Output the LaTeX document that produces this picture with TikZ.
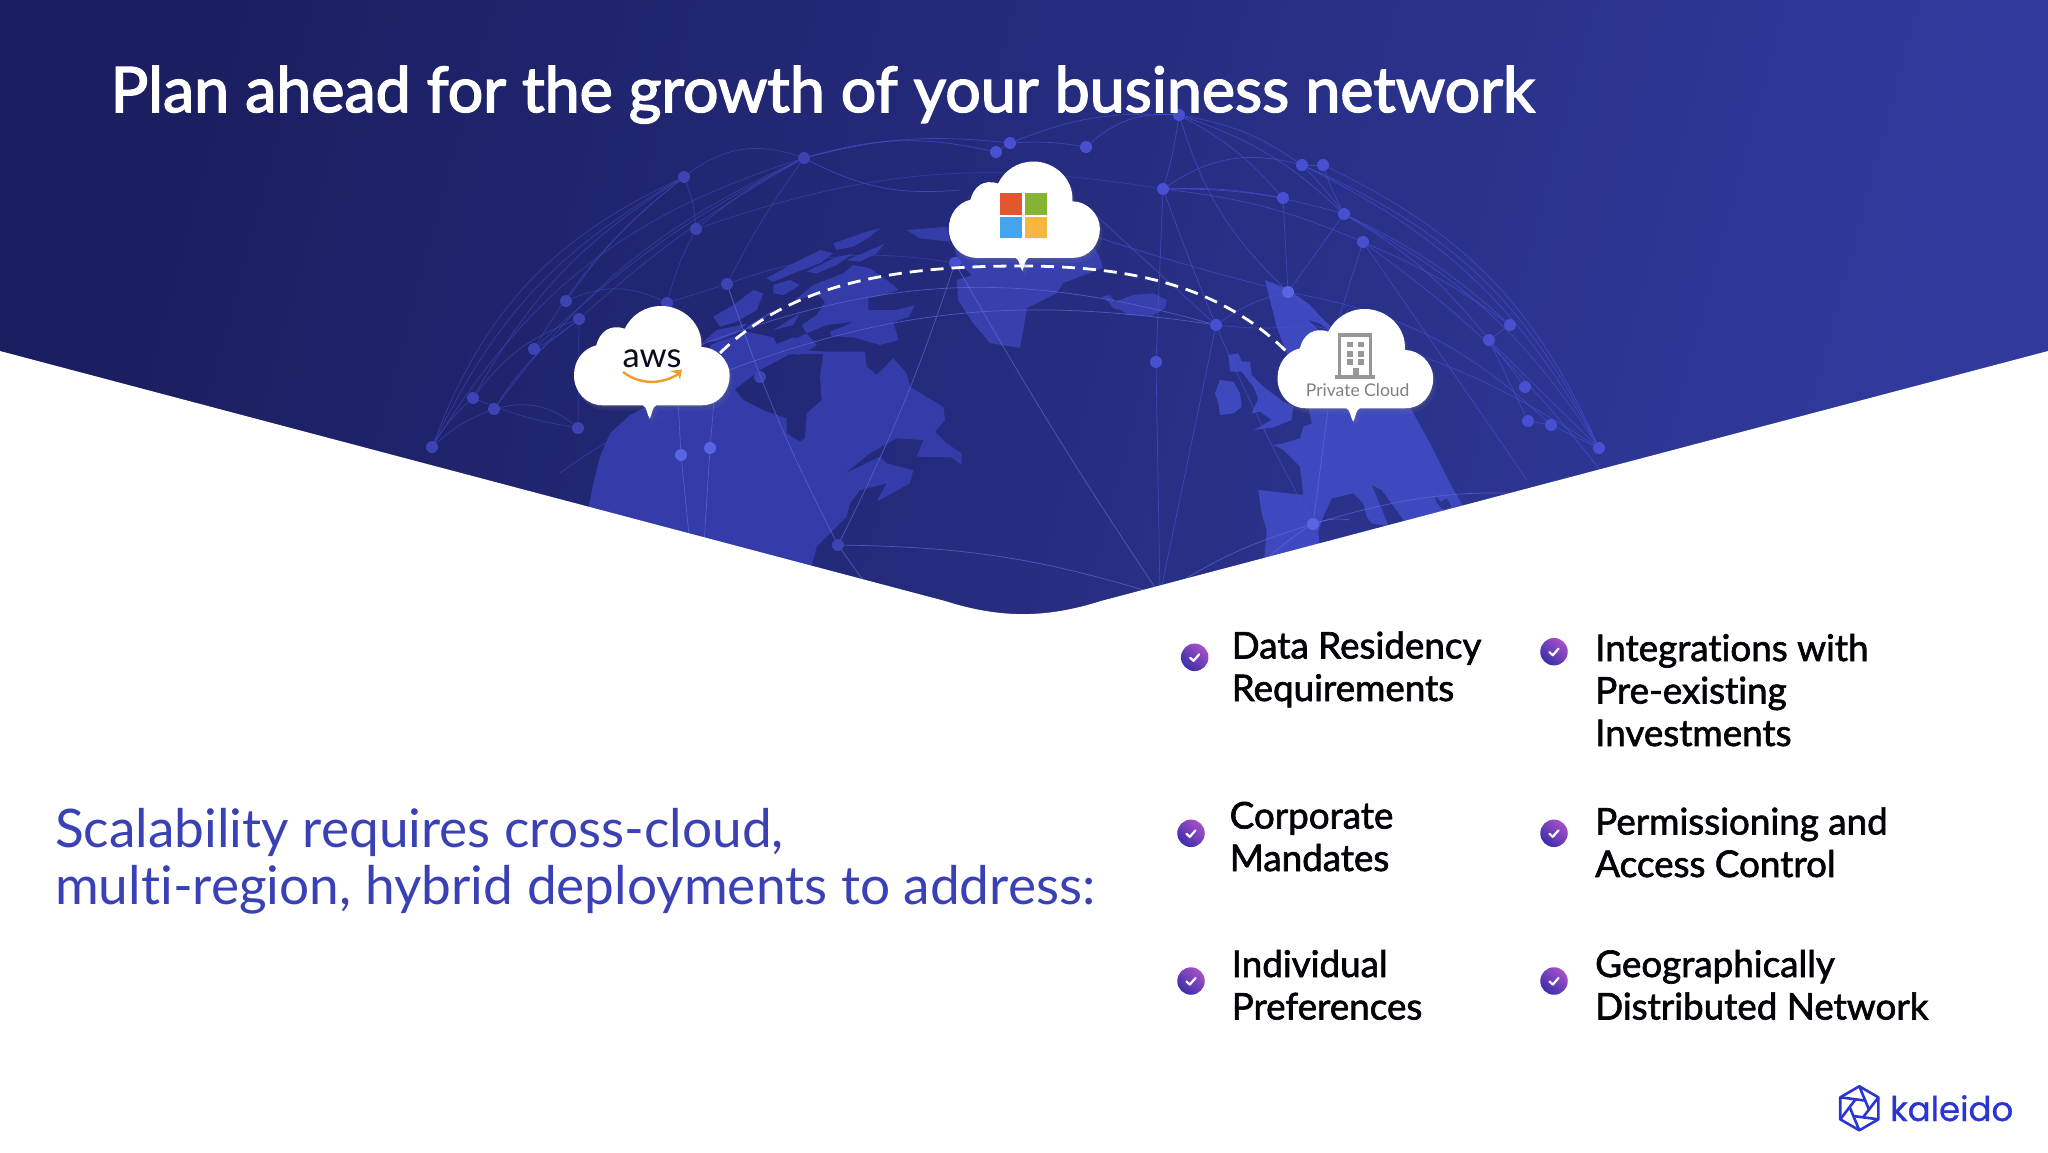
\documentclass[tikz,border=0pt]{standalone}
\usepackage{fontspec}
\setmainfont[Ligatures=NoCommon]{Lato}
\newfontfamily\latomed[FakeBold=2.4, Ligatures=NoCommon]{Lato}
\newfontfamily\latoitem[FakeBold=1.8, Ligatures=NoCommon]{Lato}
\newfontfamily\logofont[FakeBold=0.8]{Poppins}
\usetikzlibrary{positioning, shadows}
\definecolor{navyL}{HTML}{1B1E60}
\definecolor{navyM}{HTML}{20266F}
\definecolor{navyR}{HTML}{303A9C}
\definecolor{landL}{HTML}{333CA8}
\definecolor{landM}{HTML}{3840AF}
\definecolor{landR}{HTML}{3F49BF}
\definecolor{netL}{HTML}{3B44B2}
\definecolor{netR}{HTML}{4650D0}
\definecolor{netB}{HTML}{5A65E4}
\definecolor{slate}{HTML}{3A41B5}
\definecolor{gray1}{HTML}{979797}
\definecolor{kal}{HTML}{2B35D0}
\definecolor{tickB}{HTML}{3A2FA8}
\definecolor{tickT}{HTML}{A850C8}
\definecolor{smile}{HTML}{F09C28}
\tikzset{
  netdot/.style = {circle, fill=#1, inner sep=0pt, minimum size=12pt},
  netline/.style = {draw=#1, line width=0.7pt, draw opacity=0.7},
  netline/.default = netL,
  bubble/.pic = {
    \path[fill=white, drop shadow={opacity=.12, shadow xshift=3pt, shadow yshift=-5pt},
          drop shadow={opacity=.18, shadow xshift=1pt, shadow yshift=-2pt}]
      (-49,48.3) -- (-9,48.3) .. controls (-5,50) and (-5,58) .. (-2.3,61.7)
      .. controls (0,58) and (0,50) .. (4.3,48.3) -- (49.3,48.3)
      .. controls (67.7,48.3) and (77.7,33.3) .. (77.7,18.3)
      .. controls (77.7,3.3) and (64.3,-10) .. (49.3,-10)
      .. controls (51,-33.3) and (31,-51) .. (9.3,-51)
      .. controls (-7.3,-51) and (-20.7,-41.7) .. (-27.3,-28.3)
      .. controls (-42.3,-33.3) and (-52.3,-25) .. (-55.7,-11.7)
      .. controls (-69,-8.3) and (-78,3.3) .. (-78,18.3)
      .. controls (-78,35) and (-65.7,48.3) .. (-49,48.3) -- cycle;
  },
  itemtext/.style = {anchor=base west, inner sep=0pt, align=left, text=black!92!navyM,
                     font=\latoitem\fontsize{36.8}{42.5}\selectfont},
  tickdot/.style = {circle, minimum size=27.5pt, inner sep=0pt,
                    bottom color=tickB, top color=tickT, shading angle=-40,
                    path picture={
                      \draw[white, line width=2.2pt, line cap=round, line join=round,
                            shift={(path picture bounding box.center)}]
                        (-4.5,0.5) -- (-1.2,3.5) -- (4.5,-3);
                    }},
}
\begin{document}
\begin{tikzpicture}[x=1pt, y=-1pt]
    \useasboundingbox (0,0) rectangle (2048,1152);
    % backdrop
    \shade[left color=navyL, middle color=navyM, right color=navyR, shading angle=75]
        (0,0) rectangle (2048,640);

    % continents, traced at 3x
    \begin{scope}[shift={(560,230)}, scale=0.33333]
        \fill[landL, even odd rule]
            (85,835) -- (100,760) -- (120,680) -- (150,610) -- (210,555) -- (300,510) -- (440,480)
            -- (450,345) -- (560,305) -- (640,322) -- (650,342) -- (700,322) -- (770,345) -- (745,362)
            -- (800,365) -- (915,365) -- (920,410) -- (950,435) -- (1000,385) -- (1040,430) -- (1050,470)
            -- (1090,495) -- (1150,530) -- (1155,570) -- (1125,605) -- (1160,640) -- (1205,670) -- (1205,705)
            -- (1175,682) -- (1070,680) -- (1090,630) -- (1010,625) -- (930,670) -- (855,730) -- (960,680)
            -- (980,700) -- (1060,720) -- (1050,760) -- (950,815) -- (980,760) -- (900,780) -- (870,820)
            -- (860,860) -- (820,900) -- (770,950) -- (750,1030) -- (85,860) -- cycle
            (525,478) -- (600,420) -- (690,372) -- (790,372) -- (780,440) -- (785,510) -- (740,550)
            -- (735,625) -- (720,635) -- (680,610) -- (680,565) -- (620,545) -- (550,510) -- cycle;
        \fill[landL]
            (700,215) -- (760,165) -- (850,130) -- (880,105) -- (930,115) -- (1000,165) -- (1015,180)
            -- (970,195) -- (925,205) -- (925,240) -- (975,240) -- (1010,240) -- (1065,225) -- (1045,262)
            -- (1000,275) -- (1015,330) -- (960,345) -- (880,322) -- (815,318) -- (810,305) -- (850,290)
            -- (880,275) -- (800,285) -- (740,310) -- (725,285) -- (770,255) -- (795,215) -- (770,190) -- cycle;
        \fill[landL] (690,335) -- (740,310) -- (770,345) -- (715,375) -- cycle;
        \fill[landL] (460,260) -- (520,225) -- (580,180) -- (610,190) -- (590,240) -- (530,275) -- (480,290) -- cycle;
        \fill[landL] (620,145) -- (690,105) -- (780,60) -- (820,70) -- (780,100) -- (700,130) -- (640,155) -- cycle;
        \fill[landL] (820,40) -- (920,5) -- (960,-5) -- (930,20) -- (880,50) -- (830,60) -- cycle;
        \fill[landL] (560,290) -- (640,240) -- (610,270) -- (570,300) -- cycle;
        \fill[landL] (640,300) -- (720,250) -- (700,285) -- cycle;
        \fill[landL] (1040,0) -- (1160,-10) -- (1170,35) -- (1080,25) -- cycle;
        \fill[landL] (430,335) -- (470,300) -- (520,290) -- (560,280) -- (530,310) -- (470,335) -- cycle;
        \fill[landL] (640,165) -- (690,150) -- (720,165) -- (670,195) -- (640,190) -- cycle;
        \fill[landL] (740,125) -- (820,85) -- (880,70) -- (830,105) -- (770,130) -- cycle;
        \fill[landL] (860,90) -- (920,65) -- (975,40) -- (950,70) -- (900,95) -- cycle;
    \end{scope}
    \fill[landM] (985,190) -- (1080,220) -- (1100,258) -- (1103,268) -- (1063,283) -- (1057,293) -- (1027,308)
        -- (1020,348) -- (990,343) -- (973,323) -- (958,300) -- (957,280) -- (972,275) -- (958,262) -- (955,250) -- cycle;
    \begin{scope}[shift={(1020,230)}, scale=0.33333]
        \fill[landM] (245,200) -- (270,195) -- (285,215) -- (340,195) -- (400,190) -- (440,210) -- (435,235)
            -- (395,258) -- (320,255) -- (305,240) -- (280,235) -- (265,215) -- cycle;
        \fill[landR] (600,450) -- (640,455) -- (660,490) -- (665,530) -- (640,550) -- (600,555) -- (595,520) -- (585,490) -- cycle;
        \fill[landR] (625,375) -- (655,370) -- (665,395) -- (690,395) -- (695,435) -- (730,470) -- (790,515) -- (820,530)
            -- (815,570) -- (760,592) -- (702,600) -- (755,570) -- (720,545) -- (695,550) -- (715,505) -- (700,470) -- (665,425) -- (630,425) -- cycle;
        \fill[landR, even odd rule]
            (735,150) -- (800,175) -- (870,225) -- (930,290) -- (1100,400) -- (1175,540) -- (1230,640) -- (1290,760)
            -- (1330,830) -- (1330,900) -- (730,1010) -- (735,965) -- (740,900) -- (725,850) -- (715,780) -- (850,795)
            -- (840,710) -- (790,660) -- (760,645) -- (790,640) -- (840,625) -- (850,590) -- (875,580) -- (865,530)
            -- (800,370) -- (770,290) -- (745,190) -- cycle
            (895,905) -- (905,870) -- (935,805) -- (1000,790) -- (1030,820) -- (1040,860) -- (1055,880) -- (1110,890) -- (1010,935) -- (900,960) -- cycle
            (1055,765) -- (1085,780) -- (1155,875) -- (1105,885) -- cycle
            (865,270) -- (900,280) -- (925,300) -- (895,300) -- cycle
            (1245,795) -- (1250,820) -- (1270,840) -- (1295,830) -- (1280,805) -- (1262,815) -- cycle;
    \end{scope}

    % network dots and free ends
    \foreach \nm/\px/\py in {na/684/177, nb/804/158, nc/696/229, nd/727/284, ne/566/301, nf/579/319, ng/534/349,
            nh/473/398, ni/494/409, nj/578/428, nk/432/447, nm/760/377, nn/838/545, no/667/303}
        \node (\nm) [netdot=netL] at (\px,\py) {};
    \foreach \nm/\px/\py in {nr/955/263, ns/996/152, nt/1010/143, nu/1086/147, nv/1179/115, nw/1163/189,
            nx/1302/165, ny/1323/165, nz/1283/198, naa/1344/214, nab/1363/242, nad/1216/325, nae/1156/362,
            naf/1510/325, nag/1489/340, nah/1525/387, nai/1528/421, naj/1551/425, nak/1599/448}
        \node (\nm) [netdot=netR] at (\px,\py) {};
    \foreach \nm/\px/\py in {np/681/455, nq/710/448, nac/1288/292, nal/1313/524}
        \node (\nm) [netdot=netB] at (\px,\py) {};
    \foreach \nm/\px/\py in {xa/1160/595, xb/700/345, xc/690/385, xd/560/473, xe/673/413, xf/690/545, xg/704/545,
            xh/1335/330, xi/1060/225, xj/960/190, xk/1090/210, xl/1328/410, xm/1600/470, xn/1527/480,
            xo/1560/470, xp/1350/520, xq/1265/560, xr/870/590, xs/1310/325, xt/715/390, xu/678/400, xv/1590/500}
        \coordinate (\nm) at (\px,\py);

    % network lines, bending to the outside of the globe
    \foreach \src/\dst/\bnd in {nk/na/22, nk/na/17, nk/nb/20, nh/na/14, ni/nb/14, ng/na/10, ng/nb/8, ne/na/8, nf/nb/6,
            ne/no/24, nc/na/-8, nc/nb/6, nd/nb/4, nf/ng/6, nh/nf/16, ni/nf/10, nk/nh/8, nf/nj/0, ni/nj/26, nd/no/0,
            no/nc/6, nd/nr/14, nc/nw/14, na/nb/28, xd/xe/8, nm/nd/0, nh/nj/-6, nk/ni/10}
        \draw[netline] (\src) to[bend left=\bnd] (\dst);
    \foreach \src/\dst/\bnd in {nb/ns/14, ns/nt/0, nt/nu/6, nu/nv/22, nv/nw/4, nw/nae/0, nw/nx/24, nb/nt/10, nb/xj/-16,
            nv/nx/12, nv/nz/10, nv/naa/12, nt/nv/12, nw/nz/6, nw/naa/8, nw/nab/8, nx/ny/0, nx/naa/4, ny/naa/-4, nz/nac/0,
            naa/nac/0, nab/xh/0, nx/nak/20, nx/nak/17, ny/nak/20, naa/nak/14, naa/naf/8, nab/naf/6, nab/xm/8, nab/xn/0,
            naf/nag/0, nag/nah/0, nag/nai/0, nag/nak/0, nai/naj/0, naj/nak/0, naa/nag/10, xi/nac/-2, nad/nac/10, nv/nac/-14,
            nac/naj/16, xs/nak/10, nw/nal/-4, xk/nad/0, nad/xs/-6, xa/nad/0, nae/xa/0, nac/xh/0}
        \draw[netline=netR] (\src) to[bend left=\bnd] (\dst);
    \foreach \src/\dst/\bnd in {xb/nad/18, xc/nad/15, np/xf/0, nq/xg/0, np/xu/0, nq/xt/0, nd/nn/-4, nn/nr/-4, nr/xa/-2,
            nn/xa/8, nn/xr/0, xa/nal/8, nal/xl/0, nal/xp/12, nal/xq/-4, nal/xv/12}
        \draw[netline=netR!85!white] (\src) to[bend left=\bnd] (\dst);

    % white lower panel
    \fill[white] (-2,350.5) -- (945,601) .. controls (1000,618.5) and (1046,618.5) .. (1101,601) -- (2050,350.5)
        -- (2050,1154) -- (-2,1154) -- cycle;

    % link between the clouds
    \coordinate (awsport) at (720,353);
    \coordinate (msport) at (1020,266);
    \coordinate (privport) at (1288,353);
    \draw[white, line width=2.8pt, dash pattern=on 13pt off 8pt] (awsport) .. controls (790,285) and (890,266) .. (msport);
    \draw[white, line width=2.8pt, dash pattern=on 13pt off 8pt] (msport) .. controls (1130,266) and (1220,285) .. (privport);

    % clouds
    \pic (awsbubble) at (652,357) {bubble};
    \pic (msbubble) [scale=0.97] at (1024.5,211) {bubble};
    \pic (privbubble) at (1355.5,360) {bubble};

    \node (awslabel) [anchor=base, inner sep=0pt, text=black!75!navyM, font=\fontsize{34.5}{36}\selectfont] at (652,367) {aws};
    \draw[smile, line width=2.4pt] (623,372) .. controls (640,385) and (662,385) .. (680,373);
    \fill[smile] (670,371) -- (682,369.5) -- (680,380) -- (678,374) -- cycle;

    \foreach \sx/\sy/\col in {1000/193/E4572E, 1024.5/193/85B332, 1000/216.5/45A5EC, 1024.5/216.5/F5B73F}{
        \definecolor{tile}{HTML}{\col}
        \fill[tile] (\sx,\sy) rectangle +(22.3,21.8);
    }

    \draw[gray1, line width=3.3pt] (1339.4,379) -- (1339.4,335) -- (1370.6,335) -- (1370.6,379);
    \fill[gray1] (1335,375) rectangle (1375,379.3);
    \foreach \wy in {341.7,351,359.3}
        \foreach \wx in {1346.7,1358.3}
            \fill[gray1] (\wx,\wy) rectangle +(6,5.5);
    \fill[gray1] (1352.5,368.3) rectangle (1358.5,377);
    \node (privlabel) [anchor=base, inner sep=0pt, text=black!50, font=\fontsize{17.5}{20}\selectfont] at (1357.7,396) {Private Cloud};

    % texts
    \node (title) [anchor=base west, inner sep=0pt, text=white, font=\latomed\fontsize{62.7}{70}\selectfont] at (110.5,112)
        {Plan ahead for the growth of your business network};
    \node (lead) [anchor=base west, inner sep=0pt, text=slate, font=\fontsize{53.2}{57}\selectfont] at (55,847)
        {Scalability requires cross-cloud,};
    \node (leadb) [anchor=base west, inner sep=0pt, text=slate, font=\fontsize{53.2}{57}\selectfont] at (55,904.5)
        {multi-region, hybrid deployments to address:};

    \node (itemA) [itemtext] at (1231.5,701) {Data Residency\\Requirements};
    \node (itemB) [itemtext] at (1229.5,871) {Corporate\\Mandates};
    \node (itemC) [itemtext] at (1231.5,1019.5) {Individual\\Preferences};
    \node (itemD) [itemtext] at (1595,746) {Integrations with\\Pre-existing\\Investments};
    \node (itemE) [itemtext] at (1595,877) {Permissioning and\\Access Control};
    \node (itemF) [itemtext] at (1595,1019.5) {Geographically\\Distributed Network};
    \node (tickA) [tickdot] at (1194.7,657.3) {};
    \node (tickB) [tickdot] at (1191,833.3) {};
    \node (tickC) [tickdot] at (1191,981) {};
    \node (tickD) [tickdot] at (1554,651.7) {};
    \node (tickE) [tickdot] at (1554,833.3) {};
    \node (tickF) [tickdot] at (1554,981) {};

    % logo
    \begin{scope}[shift={(1859.3,1108.3)}, line width=2.6pt, kal, line join=round]
        \draw (90:22) -- (30:22) -- (-30:22) -- (-90:22) -- (-150:22) -- (150:22) -- cycle;
        \foreach \a in {30,90,...,330}
            \draw (\a:22) -- (\a+100:10);
    \end{scope}
    \node (kaleido) [anchor=base west, inner sep=0pt, text=kal, font=\logofont\fontsize{34}{36}\selectfont] at (1890,1121) {kaleido};
\end{tikzpicture}
\end{document}
